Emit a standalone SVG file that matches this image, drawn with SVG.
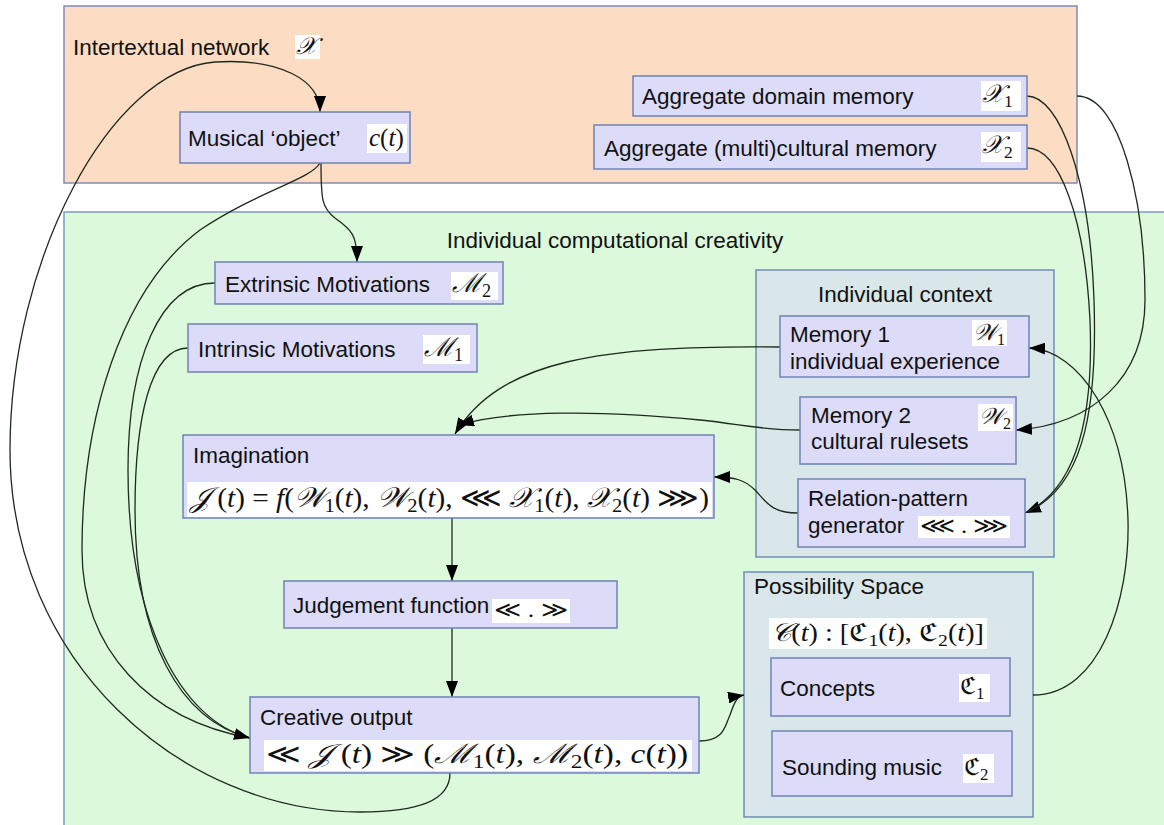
<svg xmlns="http://www.w3.org/2000/svg" width="1164" height="825" viewBox="0 0 1164 825">
  <style>
    .lbl { font-family: "Liberation Sans", Arial, sans-serif; font-size: 22.5px; fill: #111; }
    .math { font-family: "Liberation Serif", "DejaVu Serif", serif; fill: #111; }
    .it { font-style: italic; }
    .sub { font-size: 70%; font-style: normal; }
    .node { fill: #dcdcf8; stroke: #6f83b5; stroke-width: 1.5; }
    .group { fill: #d9e7ea; stroke: #6f8db5; stroke-width: 1.5; }
    .mbg { fill: #ffffff; }
    .edge { fill: none; stroke: #1e2a1e; stroke-width: 1.3; }
  </style>
  <defs>
    <marker id="arrow" viewBox="0 0 16 12" refX="16" refY="6" markerWidth="16" markerHeight="12" markerUnits="userSpaceOnUse" orient="auto">
      <path d="M0,0 L16,6 L0,12 Z" fill="#000"/>
    </marker>
  </defs>

  <rect width="1164" height="825" fill="#ffffff"/>

  <!-- intertextual network region -->
  <g id="intertextual-network">
    <rect x="64" y="6" width="1013" height="177" fill="#fcdcc3" stroke="#7e8cb8" stroke-width="1.5"/>
    <text class="lbl" x="73" y="55">Intertextual network</text>
    <rect class="mbg" x="295" y="35" width="25" height="24"/>
    <text class="math it" x="296" y="54" font-size="24">𝒳</text>
  </g>

  <!-- individual computational creativity region -->
  <g id="individual-creativity">
    <rect x="64" y="212" width="1120" height="630" fill="#dcf9dc" stroke="#7e9cc0" stroke-width="1.5"/>
    <text class="lbl" x="615" y="248" text-anchor="middle">Individual computational creativity</text>
  </g>

  <g id="individual-context">
    <rect class="group" x="756" y="270" width="298" height="287"/>
    <text class="lbl" x="905" y="302" text-anchor="middle">Individual context</text>
  </g>

  <g id="possibility-space">
    <rect class="group" x="744" y="572" width="289" height="245"/>
    <text class="lbl" x="754" y="594">Possibility Space</text>
    <rect class="mbg" x="769" y="618" width="218" height="31"/>
    <text class="math" x="771" y="641" font-size="25" textLength="213" lengthAdjust="spacingAndGlyphs"><tspan class="it">𝒞</tspan>(<tspan class="it">t</tspan>) : [ℭ<tspan class="sub" dy="5">1</tspan><tspan dy="-5">(</tspan><tspan class="it">t</tspan>), ℭ<tspan class="sub" dy="5">2</tspan><tspan dy="-5">(</tspan><tspan class="it">t</tspan>)]</text>
  </g>

  <!-- connectors -->
  <g id="connectors">
    <path class="edge" d="M450,773 C450,800 420,812 360,812 C180,812 10,660 10,450 C10,260 110,70 215,62 C280,58 320,80 320,112" marker-end="url(#arrow)"/>
    <path class="edge" d="M321,163 C321,200 322,208 335,218 C352,230 357,235 357,262" marker-end="url(#arrow)"/>
    <path class="edge" d="M320,163 C310,180 260,190 200,230 C120,290 82,420 82,550 C82,650 150,720 250,738"/>
    <path class="edge" d="M215,283 C160,283 128,360 128,470 C128,620 180,720 250,738"/>
    <path class="edge" d="M188,348 C150,348 135,420 135,510 C135,640 180,720 250,738" marker-end="url(#arrow)"/>
    <path class="edge" d="M780,347 C600,345 500,360 455,434" marker-end="url(#arrow)"/>
    <path class="edge" d="M800,430 C760,430 740,424 700,420 C600,410 510,410 458,425" marker-end="url(#arrow)"/>
    <path class="edge" d="M798,513 C770,513 765,500 755,490 C745,480 735,477 714,477" marker-end="url(#arrow)"/>
    <path class="edge" d="M452,518 L452,581" marker-end="url(#arrow)"/>
    <path class="edge" d="M452,628 L452,697" marker-end="url(#arrow)"/>
    <path class="edge" d="M699,741 C725,741 725,725 730,715 C735,700 738,696 744,695" marker-end="url(#arrow)"/>
    <path class="edge" d="M1033,695 C1100,695 1130,600 1128,520 C1125,420 1080,350 1029,348" marker-end="url(#arrow)"/>
    <path class="edge" d="M1027,96 C1060,96 1090,180 1094,300 C1098,420 1080,490 1025,513" marker-end="url(#arrow)"/>
    <path class="edge" d="M1027,148 C1060,148 1085,220 1090,320 C1094,420 1075,490 1025,513"/>
    <path class="edge" d="M1077,96 C1120,96 1145,200 1145,300 C1145,380 1090,425 1016,430" marker-end="url(#arrow)"/>
  </g>

  <!-- nodes -->
  <g id="musical-object">
    <rect class="node" x="180" y="112" width="230" height="51"/>
    <text class="lbl" x="188" y="146">Musical ‘object’</text>
    <rect class="mbg" x="367" y="124" width="40" height="29"/>
    <text class="math" x="369" y="146" font-size="25"><tspan class="it">c</tspan>(<tspan class="it">t</tspan>)</text>
  </g>

  <g id="domain-memory">
    <rect class="node" x="633" y="76" width="394" height="40"/>
    <text class="lbl" x="642" y="104">Aggregate domain memory</text>
    <rect class="mbg" x="981" y="81" width="40" height="30"/>
    <text class="math it" x="982" y="102" font-size="25">𝒳<tspan class="sub" dy="5">1</tspan></text>
  </g>

  <g id="cultural-memory">
    <rect class="node" x="594" y="125" width="433" height="44"/>
    <text class="lbl" x="604" y="156">Aggregate (multi)cultural memory</text>
    <rect class="mbg" x="981" y="132" width="40" height="30"/>
    <text class="math it" x="982" y="153" font-size="25">𝒳<tspan class="sub" dy="5">2</tspan></text>
  </g>

  <g id="extrinsic-motivations">
    <rect class="node" x="215" y="262" width="288" height="42"/>
    <text class="lbl" x="225" y="292">Extrinsic Motivations</text>
    <rect class="mbg" x="451" y="272" width="47" height="28"/>
    <text class="math it" x="452" y="292" font-size="26">ℳ<tspan class="sub" dy="5">2</tspan></text>
  </g>

  <g id="intrinsic-motivations">
    <rect class="node" x="188" y="324" width="289" height="48"/>
    <text class="lbl" x="198" y="357">Intrinsic Motivations</text>
    <rect class="mbg" x="423" y="335" width="47" height="29"/>
    <text class="math it" x="424" y="356" font-size="26">ℳ<tspan class="sub" dy="5">1</tspan></text>
  </g>

  <g id="memory-1">
    <rect class="node" x="780" y="316" width="249" height="61"/>
    <text class="lbl" x="790" y="342">Memory 1</text>
    <text class="lbl" x="790" y="369">individual experience</text>
    <rect class="mbg" x="972" y="320" width="35" height="26"/>
    <text class="math it" x="973" y="340" font-size="23">𝒲<tspan class="sub" dy="5">1</tspan></text>
  </g>

  <g id="memory-2">
    <rect class="node" x="800" y="397" width="216" height="67"/>
    <text class="lbl" x="811" y="423">Memory 2</text>
    <text class="lbl" x="811" y="449">cultural rulesets</text>
    <rect class="mbg" x="978" y="404" width="35" height="27"/>
    <text class="math it" x="979" y="424" font-size="23">𝒲<tspan class="sub" dy="5">2</tspan></text>
  </g>

  <g id="relation-pattern-generator">
    <rect class="node" x="798" y="479" width="227" height="68"/>
    <text class="lbl" x="808" y="506">Relation-pattern</text>
    <text class="lbl" x="808" y="533">generator</text>
    <rect class="mbg" x="918" y="516" width="92" height="22"/>
    <text class="math" x="920" y="533" font-size="22" textLength="88" lengthAdjust="spacingAndGlyphs">⋘ . ⋙</text>
  </g>

  <g id="imagination">
    <rect class="node" x="183" y="435" width="531" height="83"/>
    <text class="lbl" x="193" y="463">Imagination</text>
    <rect class="mbg" x="187" y="482" width="525" height="35"/>
    <text class="math" x="190" y="507" font-size="28" textLength="519" lengthAdjust="spacingAndGlyphs"><tspan class="it">𝒥</tspan> (<tspan class="it">t</tspan>) = <tspan class="it">f</tspan>(<tspan class="it">𝒲</tspan><tspan class="sub" dy="5">1</tspan><tspan dy="-5">(</tspan><tspan class="it">t</tspan>), <tspan class="it">𝒲</tspan><tspan class="sub" dy="5">2</tspan><tspan dy="-5">(</tspan><tspan class="it">t</tspan>),  ⋘ <tspan class="it">𝒳</tspan><tspan class="sub" dy="5">1</tspan><tspan dy="-5">(</tspan><tspan class="it">t</tspan>), <tspan class="it">𝒳</tspan><tspan class="sub" dy="5">2</tspan><tspan dy="-5">(</tspan><tspan class="it">t</tspan>) ⋙)</text>
  </g>

  <g id="judgement-function">
    <rect class="node" x="284" y="581" width="333" height="47"/>
    <text class="lbl" x="293" y="613" font-size="21">Judgement function</text>
    <rect class="mbg" x="492" y="599" width="78" height="24"/>
    <text class="math" x="494" y="617" font-size="22" textLength="74" lengthAdjust="spacingAndGlyphs">≪ . ≫</text>
  </g>

  <g id="creative-output">
    <rect class="node" x="250" y="697" width="449" height="76"/>
    <text class="lbl" x="260" y="725">Creative output</text>
    <rect class="mbg" x="264" y="740" width="428" height="31"/>
    <text class="math" x="266" y="763" font-size="27" textLength="422" lengthAdjust="spacingAndGlyphs">≪ <tspan class="it">𝒥</tspan> (<tspan class="it">t</tspan>) ≫ (<tspan class="it">ℳ</tspan><tspan class="sub" dy="5">1</tspan><tspan dy="-5">(</tspan><tspan class="it">t</tspan>), <tspan class="it">ℳ</tspan><tspan class="sub" dy="5">2</tspan><tspan dy="-5">(</tspan><tspan class="it">t</tspan>), <tspan class="it">c</tspan>(<tspan class="it">t</tspan>))</text>
  </g>

  <g id="concepts">
    <rect class="node" x="771" y="658" width="239" height="58"/>
    <text class="lbl" x="780" y="696">Concepts</text>
    <rect class="mbg" x="959" y="674" width="31" height="28"/>
    <text class="math" x="960" y="694" font-size="24">ℭ<tspan class="sub" dy="5">1</tspan></text>
  </g>

  <g id="sounding-music">
    <rect class="node" x="772" y="731" width="240" height="65"/>
    <text class="lbl" x="782" y="775">Sounding music</text>
    <rect class="mbg" x="963" y="754" width="31" height="29"/>
    <text class="math" x="964" y="775" font-size="24">ℭ<tspan class="sub" dy="5">2</tspan></text>
  </g>
</svg>
